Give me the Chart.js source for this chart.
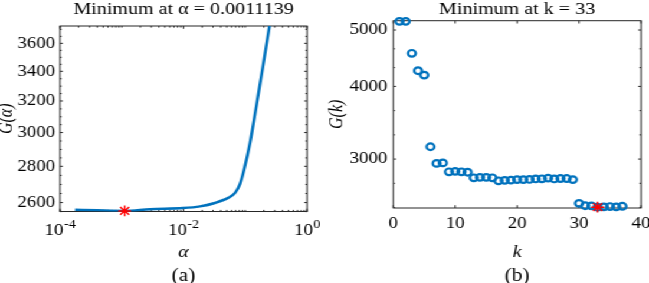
<!DOCTYPE html>
<html><head><meta charset="utf-8">
<script src="https://cdn.jsdelivr.net/npm/chart.js@4.4.1/dist/chart.umd.min.js"></script>
<style>
html,body{margin:0;padding:0;background:#fff;overflow:hidden;width:649px;height:283px;}
#stage{position:absolute;left:0;top:0;width:550px;height:283px;transform:scaleX(1.18);transform-origin:0 0;}
.panel{position:absolute;top:0;width:275px;height:283px;}
#pa{left:0}
#pb{left:275px}
</style></head><body>
<div id="stage"><div class="panel" id="pa"><canvas id="ca"></canvas></div><div class="panel" id="pb"><canvas id="cb"></canvas></div></div>
<script>
// ---------- data ----------
const alphaValues  = [1.75e-4, 4e-4, 1.1139e-3, 2.87e-3, 9.8e-3, 1.85e-2, 3.23e-2, 5.26e-2, 6.83e-2, 8.23e-2, 9.55e-2, 0.1194, 0.1532, 0.196, 0.245, 0.303];
const gAlphaValues = [2562, 2559, 2556, 2565, 2571, 2580, 2598, 2625, 2652, 2701, 2780, 2938, 3181, 3452, 3722, 3990];
const alphaMin  = [0.0011139];
const gAlphaMin = [2556];

const kValues  = [1,2,3,4,5,6,7,8,9,10,11,12,13,14,15,16,17,18,19,20,21,22,23,24,25,26,27,28,29,30,31,32,33,34,35,36,37];
const gkValues = [5175,5175,4560,4256,4183,3150,2949,2955,2853,2858,2853,2848,2786,2791,2791,2786,2753,2758,2760,2766,2766,2768,2773,2775,2782,2773,2778,2778,2766,2518,2494,2492,2480,2483,2486,2483,2489];
const kMin  = [33];
const gkMin = [2480];

// ---------- ticks / labels ----------
const alphaTicks    = [1e-4, 1e-2, 1];
const alphaTickBase = '10';
const alphaTickExp  = ['-4', '-2', '0'];
const gAlphaTicks   = [2600, 2800, 3000, 3200, 3400, 3600];
const kTicks        = [0, 10, 20, 30, 40];
const gkTicks       = [3000, 4000, 5000];

const titleA = 'Minimum at α = 0.0011139';
const titleB = 'Minimum at k = 33';
const xLabelA = 'α', yLabelA = 'G(α)', panelA = '(a)';
const xLabelB = 'k', yLabelB = 'G(k)', panelB = '(b)';

// ---------- styling ----------
const FONT = "'Liberation Serif','Times New Roman',Times,serif";
const TXT = '#000000';
const AX = '#262626';
const BLUE = '#0072BD';
const RED = '#FF0000';
const TICK_SIZE = 16;
const TITLE_SIZE = 17;
const LABEL_SIZE = 17;
const PANEL_SIZE = 18;

function minorLog(lo, hi) {
  const out = [];
  for (let e = Math.floor(Math.log10(lo)); e <= Math.ceil(Math.log10(hi)); e++) {
    for (let m = 1; m <= 9; m++) {
      const v = m * Math.pow(10, e);
      if (v >= lo && v <= hi) out.push(v);
    }
  }
  return out;
}

function makeFrame(spec) {
  return {
    id: 'frame',
    beforeDatasetsDraw(chart) {
      const {ctx, chartArea: a} = chart;
      const xs = chart.scales.x, ys = chart.scales.y;
      ctx.save();
      ctx.strokeStyle = AX; ctx.lineWidth = 1;
      ctx.beginPath();
      const seg = (x1, y1, x2, y2) => { ctx.moveTo(x1, y1); ctx.lineTo(x2, y2); };
      const inX = p => p >= a.left - 0.5 && p <= a.right + 0.5;
      const inY = p => p >= a.top - 0.5 && p <= a.bottom + 0.5;
      const xt = (vals, len) => vals.forEach(v => {
        const p = xs.getPixelForValue(v);
        if (inX(p)) { seg(p, a.bottom, p, a.bottom - len); seg(p, a.top, p, a.top + len); }
      });
      xt(spec.xMinor || [], 1.6);
      xt(spec.xMajor, 2.8);
      const yt = (p, len) => { if (inY(p)) { seg(a.left, p, a.left + len, p); seg(a.right, p, a.right - len, p); } };
      const ym = spec.yMajor.map(v => ys.getPixelForValue(v));
      ym.forEach(p => yt(p, 2.4));
      const n = spec.ySub;
      if (n > 1 && ym.length > 1) {
        for (let i = 0; i < ym.length - 1; i++) {
          const g = (ym[i + 1] - ym[i]) / n;
          for (let j = 1; j < n; j++) yt(ym[i] + g * j, 1.4);
        }
        const g0 = (ym[1] - ym[0]) / n;
        for (let p = ym[0] - g0; inY(p); p -= g0) yt(p, 1.4);
        const gl = (ym[ym.length - 1] - ym[ym.length - 2]) / n;
        for (let p = ym[ym.length - 1] + gl; inY(p); p += gl) yt(p, 1.4);
      }
      ctx.stroke();
      ctx.strokeRect(a.left, a.top, a.right - a.left, a.bottom - a.top);
      ctx.restore();
    },
    afterDraw(chart) {
      if (!spec.xExp) return;
      const {ctx, chartArea: a} = chart;
      const xs = chart.scales.x;
      ctx.save();
      ctx.fillStyle = TXT; ctx.textBaseline = 'middle'; ctx.textAlign = 'left';
      spec.xTicks.forEach((v, i) => {
        const px = xs.getPixelForValue(v);
        ctx.font = `${TICK_SIZE}px ${FONT}`; const wb = ctx.measureText(alphaTickBase).width;
        ctx.font = `12px ${FONT}`; const we = ctx.measureText(spec.xExp[i]).width;
        const x0 = px - (wb + we) / 2;
        ctx.font = `${TICK_SIZE}px ${FONT}`; ctx.fillText(alphaTickBase, x0, a.bottom + 19.5);
        ctx.font = `12px ${FONT}`; ctx.fillText(spec.xExp[i], x0 + wb + 0.3, a.bottom + 13);
      });
      ctx.restore();
    }
  };
}

const common = {
  responsive: true, maintainAspectRatio: false, animation: false, devicePixelRatio: 1, events: [],
};

// ---------- panel (a) ----------
new Chart(document.getElementById('ca'), {
  type: 'scatter',
  data: { datasets: [
    { data: alphaMin.map((a, i) => ({x: a, y: gAlphaMin[i]})), pointStyle: 'star', pointRadius: 5.4, borderColor: RED, backgroundColor: RED, borderWidth: 1.4, clip: false },
    { data: alphaValues.map((a, i) => ({x: a, y: gAlphaValues[i]})), showLine: true, borderColor: BLUE, borderWidth: 2.5, pointRadius: 0, cubicInterpolationMode: 'monotone', fill: false }
  ]},
  options: Object.assign({}, common, {
    layout: {padding: {left: 0, right: 14.8, top: 0, bottom: 0}},
    plugins: {
      legend: {display: false}, tooltip: {enabled: false},
      title: {display: true, text: titleA, fullSize: false, color: TXT, font: {family: FONT, size: TITLE_SIZE, weight: 'normal', lineHeight: 1}, padding: {top: 1.5, bottom: 7.5}},
      subtitle: {display: true, position: 'bottom', text: panelA, fullSize: false, color: TXT, font: {family: FONT, size: PANEL_SIZE, weight: 'normal', lineHeight: 0.75}, padding: {top: 0, bottom: 0}}
    },
    scales: {
      x: { type: 'logarithmic', min: 1e-4, max: 1,
        grid: {display: false, drawTicks: false}, border: {display: false}, ticks: {display: false},
        title: {display: true, text: xLabelA, color: TXT, font: {family: FONT, size: LABEL_SIZE, style: 'italic', lineHeight: 1}, padding: {top: 0, bottom: 8}},
        afterFit: s => { s.height = 58; s.paddingLeft = 0; s.paddingRight = 0; } },
      y: { type: 'logarithmic', min: 2553, max: 3730,
        grid: {display: false, drawTicks: false}, border: {display: false},
        ticks: {color: TXT, font: {family: FONT, size: TICK_SIZE}, padding: 4, autoSkip: false, callback: v => String(v)},
        afterBuildTicks: s => { s.ticks = gAlphaTicks.map(v => ({value: v})); },
        title: {display: true, text: yLabelA, color: TXT, font: {family: FONT, size: 16, style: 'italic', lineHeight: 1}, padding: {top: -2, bottom: 0}},
        afterFit: s => { s.width = 50.85; s.paddingTop = 0; s.paddingBottom = 0; } }
    }
  }),
  plugins: [makeFrame({xMajor: alphaTicks, xMinor: minorLog(1e-4, 1), yMajor: gAlphaTicks, ySub: 4, xTicks: alphaTicks, xExp: alphaTickExp})]
});

// ---------- panel (b) ----------
new Chart(document.getElementById('cb'), {
  type: 'scatter',
  data: { datasets: [
    { data: kMin.map((k, i) => ({x: k, y: gkMin[i]})), pointStyle: 'star', pointRadius: 5.4, borderColor: RED, backgroundColor: RED, borderWidth: 1.4, clip: false },
    { data: kValues.map((k, i) => ({x: k, y: gkValues[i]})), pointStyle: 'circle', pointRadius: 3.3, borderColor: BLUE, backgroundColor: 'rgba(0,0,0,0)', borderWidth: 2.2, clip: false }
  ]},
  options: Object.assign({}, common, {
    layout: {padding: {left: 0, right: 6.2, top: 0, bottom: 0}},
    plugins: {
      legend: {display: false}, tooltip: {enabled: false},
      title: {display: true, text: titleB, fullSize: false, color: TXT, font: {family: FONT, size: TITLE_SIZE, weight: 'normal', lineHeight: 1}, padding: {top: 1.5, bottom: 2.2}},
      subtitle: {display: true, position: 'bottom', text: panelB, fullSize: false, color: TXT, font: {family: FONT, size: PANEL_SIZE, weight: 'normal', lineHeight: 0.75}, padding: {top: 0, bottom: 0}}
    },
    scales: {
      x: { type: 'linear', min: 0, max: 40,
        grid: {display: false, drawTicks: false}, border: {display: false},
        ticks: {color: TXT, font: {family: FONT, size: TICK_SIZE}, padding: 6.4, autoSkip: false, maxRotation: 0},
        afterBuildTicks: s => { s.ticks = kTicks.map(v => ({value: v})); },
        title: {display: true, text: xLabelB, color: TXT, font: {family: FONT, size: LABEL_SIZE, style: 'italic', lineHeight: 1}, padding: {top: 0, bottom: 8.5}},
        afterFit: s => { s.height = 61.5; s.paddingLeft = 0; s.paddingRight = 0; } },
      y: { type: 'logarithmic', min: 2472, max: 5188,
        grid: {display: false, drawTicks: false}, border: {display: false},
        ticks: {color: TXT, font: {family: FONT, size: TICK_SIZE}, padding: 5, autoSkip: false, callback: v => String(v)},
        afterBuildTicks: s => { s.ticks = gkTicks.map(v => ({value: v})); },
        title: {display: true, text: yLabelB, color: TXT, font: {family: FONT, size: 16, style: 'italic', lineHeight: 1}, padding: {top: 2.3, bottom: 0}},
        afterFit: s => { s.width = 58.3; s.paddingTop = 0; s.paddingBottom = 0; } }
    }
  }),
  plugins: [makeFrame({xMajor: kTicks, yMajor: gkTicks, ySub: 3})]
});
</script>
</body></html>
